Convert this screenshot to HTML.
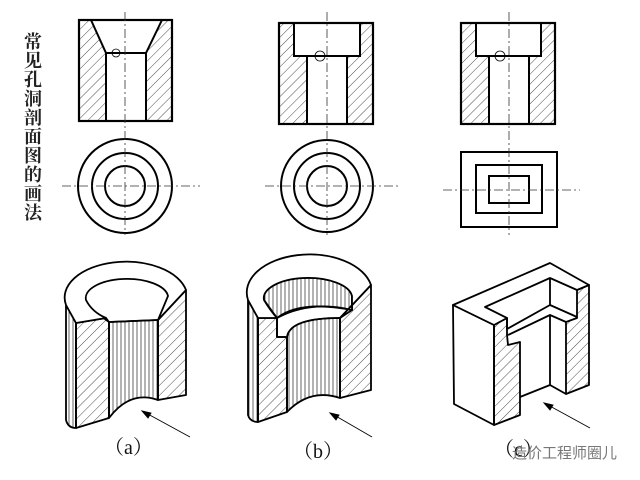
<!DOCTYPE html>
<html><head><meta charset="utf-8"><style>
html,body{margin:0;padding:0;background:#fff}
svg{display:block}
text{font-family:"Liberation Serif","Noto Serif CJK SC",serif}
</style></head><body>
<svg width="640" height="480" viewBox="0 0 640 480" xmlns="http://www.w3.org/2000/svg">
<defs>
<pattern id="h" width="7" height="7" patternUnits="userSpaceOnUse" patternTransform="rotate(45)">
<line x1="0" y1="0" x2="0" y2="7" stroke="#000" stroke-width="0.7"/>
</pattern>
<pattern id="v" width="4" height="10" patternUnits="userSpaceOnUse">
<line x1="1" y1="0" x2="1" y2="10" stroke="#000" stroke-width="0.6"/>
</pattern>
</defs>
<g font-size="18" fill="#222" font-weight="bold">
<text x="24" y="48">常</text><text x="24" y="67">见</text><text x="24" y="86">孔</text><text x="24" y="105">洞</text><text x="24" y="124">剖</text><text x="24" y="143">面</text><text x="24" y="162">图</text><text x="24" y="181">的</text><text x="24" y="200">画</text><text x="24" y="219">法</text>
</g>

<!-- (a) section -->
<g stroke="#000" fill="none">
<path d="M79,20 L91,20 L106,53 L106,121 L79,121 Z" fill="url(#h)" stroke="none"/>
<path d="M172,20 L162,20 L146,53 L146,121 L172,121 Z" fill="url(#h)" stroke="none"/>
<rect x="79" y="20" width="93" height="101" stroke-width="2.2"/>
<path d="M91,20 L106,53 L146,53 L162,20 M106,53 L106,121 M146,53 L146,121" stroke-width="2"/>
<circle cx="116" cy="53" r="4" stroke-width="0.8"/>
<circle cx="125" cy="186" r="47" stroke-width="2"/>
<circle cx="125" cy="186" r="33" stroke-width="2"/>
<circle cx="125" cy="186" r="20" stroke-width="2"/>
</g>
<!-- (b) section -->
<g stroke="#000" fill="none">
<path d="M279,23 L294,23 L294,56 L307,56 L307,124 L279,124 Z" fill="url(#h)" stroke="none"/>
<path d="M373,23 L360,23 L360,56 L347,56 L347,124 L373,124 Z" fill="url(#h)" stroke="none"/>
<rect x="279" y="23" width="94" height="101" stroke-width="2.2"/>
<path d="M294,23 L294,56 L360,56 L360,23 M307,56 L307,124 M347,56 L347,124" stroke-width="2"/>
<circle cx="320" cy="56" r="5" stroke-width="0.8"/>
<circle cx="327" cy="186" r="46" stroke-width="2"/>
<circle cx="327" cy="186" r="33" stroke-width="2"/>
<circle cx="327" cy="186" r="20" stroke-width="2"/>
</g>
<!-- (c) section -->
<g stroke="#000" fill="none">
<path d="M461,23 L476,23 L476,56 L489,56 L489,124 L461,124 Z" fill="url(#h)" stroke="none"/>
<path d="M555,23 L541,23 L541,56 L529,56 L529,124 L555,124 Z" fill="url(#h)" stroke="none"/>
<rect x="461" y="23" width="94" height="101" stroke-width="2.2"/>
<path d="M476,23 L476,56 L541,56 L541,23 M489,56 L489,124 M529,56 L529,124" stroke-width="2"/>
<circle cx="500" cy="56" r="5" stroke-width="0.8"/>
<rect x="461" y="152" width="96" height="75" stroke-width="2"/>
<rect x="476" y="165" width="66" height="48" stroke-width="2"/>
<rect x="489" y="176" width="40" height="27" stroke-width="2"/>
</g>
<!-- center lines -->
<g stroke="#333" stroke-width="0.8" stroke-dasharray="9,3,2,3" fill="none">
<line x1="125" y1="12" x2="125" y2="235"/>
<line x1="62" y1="186" x2="200" y2="186"/>
<line x1="327" y1="12" x2="327" y2="235"/>
<line x1="265" y1="186" x2="400" y2="186"/>
<line x1="509" y1="12" x2="509" y2="235"/>
<line x1="443" y1="190" x2="580" y2="190"/>
</g>

<!-- (a) iso -->
<g stroke="#000" stroke-width="1.8" fill="none" stroke-linejoin="round">
<path d="M76,323 L106,318 L109,322 L109,418 L76,428 Z" fill="url(#h)"/>
<path d="M158,320 L186,290 L186,395 L158,400 Z" fill="url(#h)"/>
<path d="M109,322 L158,320 L158,400 Q130,390 109,418 Z" fill="url(#v)"/>
<path d="M66,305 L66,420 Q68,428 76,428 L76,323 Z" fill="url(#v)"/>
<path d="M186,290 A60,35 0 0 0 66,305 L76,323 L106,318 Q92,312 86,300 A41,19 0 0 1 168,296 L158,320 Z" fill="#fff"/>
<path d="M106,318 Q100,316 109,322 L158,320"/>
</g>
<!-- (b) iso -->
<g stroke="#000" stroke-width="1.8" fill="none" stroke-linejoin="round">
<path d="M258,318 L277,318 L277,337 L287,337 L287,412 L258,422 Z" fill="url(#h)"/>
<path d="M340,318 L371,285 L371,390 L340,398 Z" fill="url(#h)"/>
<path d="M287,337 Q290,318 340,318 L340,398 Q310,388 287,412 Z" fill="url(#v)"/>
<path d="M248,300 L248,415 Q250,422 258,422 L258,318 Z" fill="url(#v)"/>
<path d="M264,300 A44,20 0 0 1 352,296 L352,310 Q310,300 277,318 Z" fill="url(#v)"/>
<path d="M371,285 A61,37 0 0 0 248,300 L258,318 L277,318 Q270,310 264,300 A44,20 0 0 1 352,296 L352,310 L340,318 Z" fill="#fff"/>
<path d="M277,318 Q300,300 352,310 M277,318 L277,337 L287,337 Q290,318 340,318"/>
</g>
<!-- (c) iso -->
<g stroke="#000" stroke-width="1.8" fill="none" stroke-linejoin="round">
<path d="M453,305 L494,325 L494,425 L454,404 Z" fill="#fff"/>
<path d="M494,325 L507,318 L507,335 L508,345 L520,342 L520,415 L494,425 Z" fill="url(#h)"/>
<path d="M566,322 L577,318 L577,290 L589,285 L589,385 L566,394 Z" fill="url(#h)"/>
<path d="M453,305 L550,263 L589,285 L577,290 L550,278 L485,307 L507,318 L494,325 Z" fill="#fff"/>
<path d="M485,307 L507,318 L507,329 L550,305 L577,317 M550,278 L550,305"/>
<path d="M508,335 L550,315 L566,322 M550,315 L550,385 M520,397 L550,385 L566,394"/>
</g>
<!-- arrows -->
<g stroke="#000" stroke-width="0.9" fill="#000">
<line x1="190" y1="437" x2="146" y2="413"/><path d="M142,411 L151,413 L148,418 Z"/>
<line x1="372" y1="437" x2="334" y2="415"/><path d="M330,413 L339,415 L336,420 Z"/>
<line x1="590" y1="428" x2="548" y2="405"/><path d="M544,403 L553,405 L550,410 Z"/>
</g>
<g font-size="20" fill="#111">
<text x="104" y="454">（a）</text>
<text x="293" y="458">（b）</text>
<text x="494" y="456">（c）</text>
</g>
<text x="512" y="458" font-size="15" fill="#777" style="font-family:'Liberation Sans','Noto Sans CJK SC',sans-serif">造价工程师圈儿</text>
</svg>
</body></html>
